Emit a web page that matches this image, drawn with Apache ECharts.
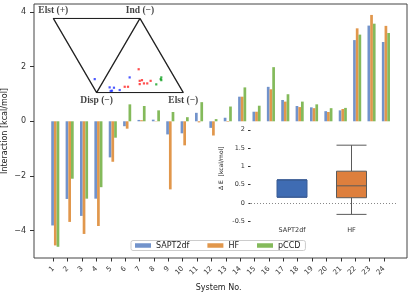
<!DOCTYPE html>
<html><head><meta charset="utf-8">
<script src="https://cdn.jsdelivr.net/npm/echarts@6/dist/echarts.min.js"></script>
<style>html,body{margin:0;padding:0;background:#fff}#c{width:416px;height:292px}</style>
</head><body><div id="c"></div>
<script>
const systems = ['1','2','3','4','5','6','7','8','9','10','11','12','13','14','15','16','17','18','19','20','21','22','23','24'];
const sapt2df = [-3.81,-2.84,-3.46,-2.83,-1.32,-0.18,0.05,0.06,-0.48,-0.44,0.31,-0.24,0.13,0.90,0.35,1.26,0.78,0.56,0.51,0.37,0.40,2.97,3.50,2.90];
const hf      = [-4.54,-3.68,-4.12,-3.83,-1.48,-0.27,0.04,0.01,-2.49,-0.88,-0.04,-0.52,-0.02,0.90,0.35,1.17,0.72,0.52,0.48,0.34,0.45,3.40,3.89,3.49];
const pccd    = [-4.59,-2.10,-2.83,-2.41,-0.60,0.62,0.56,0.40,0.34,0.15,0.70,0.08,0.54,1.24,0.57,1.98,0.99,0.72,0.62,0.48,0.49,3.17,3.57,3.23];
const yTicks = [-4,-2,0,2,4];

// inset: Delta E boxplots [min, Q1, median, Q3, max]
const boxNames = ['SAPT2df','HF'];
const boxSapt = [0.16,0.16,0.63,0.63,0.63];
const boxHf   = [-0.31,0.145,0.47,0.87,1.58];
const boxTicks = [-0.5,0,0.5,1,1.5,2];

// inset: triangle diagram (side = 1)
const triVertices = [[0.5,0],[0,0.866],[1,0.866],[0.5,0],[1.5,0],[1,0.866]];
const triLabelsTop = [['Elst (+)',0,0.866],['Ind (−)',1,0.866]];
const triLabelsBottom = [['Disp (−)',0.5,0],['Elst (−)',1.5,0]];
const triBlue  = [[0.478,0.158],[0.650,0.062],[0.662,0.020],[0.677,0.023],[0.700,0.058],[0.766,0.031],[0.881,0.178]];
const triRed   = [[0.824,0.069],[0.862,0.069],[0.985,0.273],[0.997,0.138],[1.023,0.146],[0.997,0.100],[1.046,0.108],[1.084,0.108],[1.123,0.138]];
const triGreen = [[1.188,0.097],[1.239,0.158],[1.246,0.178],[1.246,0.146]];

const F = 'DejaVu Sans';
const col = ['#7293cb','#e1974c','#84ba5b'];
const chart = echarts.init(document.getElementById('c'), null, {renderer:'canvas'});
const barS = (name, data, c) => ({
  name, type:'bar', xAxisIndex:0, yAxisIndex:0, data, barWidth:2.7, barGap:'0%',
  itemStyle:{color:c}, z:2
});
const G = (o) => Object.assign({outerBoundsMode:'none', containLabel:false}, o);
chart.setOption({
  animation:false,
  textStyle:{fontFamily:F},
  grid:[
    G({left:48.1, right:22.9, top:4, bottom:34}),
    G({left:34, right:9, top:4, bottom:34, show:true, borderColor:'#444', borderWidth:1, backgroundColor:'transparent'}),
    G({left:46.1, right:24.9, top:4, bottom:34}),
    G({left:53.3, right:232.7, top:18.3, bottom:199.3}),
    G({left:262.25, right:34.75, top:111.5, bottom:67}),
    G({left:248, right:19, top:111.5, bottom:67})
  ],
  xAxis:[
    {gridIndex:0, type:'category', data:systems, show:false},
    {gridIndex:1, type:'value', show:false},
    {gridIndex:2, type:'category', data:systems, axisLine:{show:false},
     axisTick:{show:true, alignWithLabel:true, length:3.5, lineStyle:{color:'#333'}},
     axisLabel:{rotate:45, fontSize:7, color:'#333', margin:9.5, interval:0},
     name:'System No.', nameLocation:'middle', nameGap:25.5, nameMoveOverlap:false,
     nameTextStyle:{fontSize:8, color:'#222'}},
    {gridIndex:3, type:'value', min:0, max:1.5, show:false},
    {gridIndex:4, type:'category', data:boxNames, axisLine:{show:false}, axisTick:{show:false},
     axisLabel:{fontSize:6.5, color:'#333', margin:2}},
    {gridIndex:5, type:'value', min:0, max:1, show:false}
  ],
  yAxis:[
    {gridIndex:0, type:'value', min:-5.0, max:4.29, offset:14.1, splitLine:{show:false},
     axisLine:{show:false},
     axisTick:{show:true, length:4, customValues:yTicks, lineStyle:{color:'#333'}},
     axisLabel:{fontSize:8, color:'#333', margin:8, customValues:yTicks, showMaxLabel:true, showMinLabel:true,
       formatter:v=>String(v).replace('-','−')},
     name:'Interaction [kcal/mol]', nameLocation:'middle', nameGap:25, nameMoveOverlap:false,
     nameTextStyle:{fontSize:8, color:'#222'}},
    {gridIndex:1, type:'value', show:false},
    {gridIndex:2, type:'value', show:false},
    {gridIndex:3, type:'value', min:0, max:0.866, show:false},
    {gridIndex:4, type:'value', min:-0.6, max:2.5, offset:11.75, splitLine:{show:false},
     axisLine:{show:false},
     axisTick:{show:true, length:2.5, customValues:boxTicks, lineStyle:{color:'#333'}},
     axisLabel:{fontSize:6.5, color:'#333', margin:5.5, customValues:boxTicks, showMaxLabel:true, showMinLabel:true},
     name:'Δ E  [kcal/mol]', nameLocation:'middle', nameGap:26, nameTextStyle:{fontSize:6, color:'#222'}},
    {gridIndex:5, type:'value', min:-0.6, max:2.5, show:false}
  ],
  legend:{
    data:['SAPT2df','HF','pCCD'], left:131, top:240.5, orient:'horizontal',
    itemWidth:16, itemHeight:4.5, itemGap:18, icon:'rect',
    textStyle:{fontSize:8, color:'#222', fontFamily:F},
    backgroundColor:'#fff', borderColor:'#ccc', borderWidth:1, borderRadius:2, padding:[1,5,1,4]
  },
  series:[
    barS('SAPT2df', sapt2df, col[0]),
    barS('HF', hf, col[1]),
    barS('pCCD', pccd, col[2]),
    {type:'line', xAxisIndex:3, yAxisIndex:3, data:triVertices, symbol:'none',
     lineStyle:{color:'#222', width:1.3}, z:5, silent:true},
    {type:'scatter', xAxisIndex:3, yAxisIndex:3, symbolSize:0, z:6,
     data:triLabelsTop.map(d=>({name:d[0], value:[d[1],d[2]]})),
     label:{show:true, position:'top', distance:3, formatter:p=>p.name, fontFamily:'Liberation Serif', fontWeight:'bold', fontSize:9.5, color:'#111'}},
    {type:'scatter', xAxisIndex:3, yAxisIndex:3, symbolSize:0, z:6,
     data:triLabelsBottom.map(d=>({name:d[0], value:[d[1],d[2]]})),
     label:{show:true, position:'bottom', distance:3, formatter:p=>p.name, fontFamily:'Liberation Serif', fontWeight:'bold', fontSize:9.5, color:'#111'}},
    {type:'scatter', xAxisIndex:3, yAxisIndex:3, data:triBlue, symbol:'rect', symbolSize:2.2, itemStyle:{color:'#1f2fff'}, z:7},
    {type:'scatter', xAxisIndex:3, yAxisIndex:3, data:triRed, symbol:'rect', symbolSize:2.2, itemStyle:{color:'#ff2020'}, z:7},
    {type:'scatter', xAxisIndex:3, yAxisIndex:3, data:triGreen, symbol:'rect', symbolSize:2.2, itemStyle:{color:'#10a020'}, z:7},
    {type:'line', xAxisIndex:5, yAxisIndex:5, data:[], z:3,
     markLine:{silent:true, symbol:'none', label:{show:false},
       lineStyle:{type:[1,2], color:'#888', width:1}, data:[{yAxis:0}]}},
    {type:'boxplot', name:'dE', xAxisIndex:4, yAxisIndex:4, boxWidth:[30,30], z:4,
     data:[
       {value:boxSapt, itemStyle:{color:'#3f6cb3', borderColor:'#3a5d95', borderWidth:1}},
       {value:boxHf, itemStyle:{color:'#de7f3d', borderColor:'#5a5a5a', borderWidth:1}}
     ]}
  ]
});
</script></body></html>
